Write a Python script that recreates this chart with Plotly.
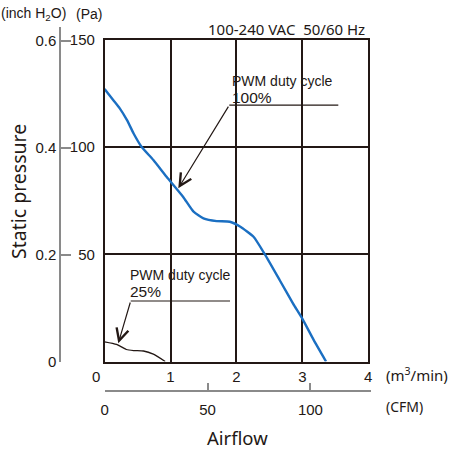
import plotly.graph_objects as go

# ---- data ----
flow_100 = [0.0, 0.13, 0.23, 0.34, 0.44, 0.56, 0.74, 0.94, 1.19, 1.35, 1.50, 1.70, 1.90, 2.06, 2.26, 2.43, 2.66, 2.86, 3.00, 3.17, 3.36]
pa_100 = [127.1, 122.0, 118.1, 112.6, 106.4, 100.2, 94.0, 86.2, 76.9, 69.9, 66.8, 65.5, 65.2, 62.9, 58.2, 50.1, 37.8, 27.0, 20.0, 10.2, 0.0]
flow_25 = [0.0, 0.18, 0.33, 0.44, 0.59, 0.74, 0.92]
pa_25 = [9.2, 8.0, 5.6, 5.1, 4.9, 3.4, 0.0]

x_ticks = [0, 1, 2, 3, 4]
x_ticktext = ["0\u2007\u2007", "1", "2", "3", "4"]
pa_ticks = [50, 100, 150]
inch_ticks = [0, 0.2, 0.4, 0.6]
inch_ticktext = ["0", "0.2", "0.4", "0.6"]
cfm_ticks = [0, 50, 100]

W, H = 451, 450
def px(x): return x / W
def py(y): return 1 - y / H

GRID = "#231815"
GRAY = "#8a8a8a"
TXT = "#231815"
TICKFONT = dict(family="Liberation Sans Narrow, Liberation Sans, Arial", size=15, color=TXT)
ANNFONT = "Noto Sans, Liberation Sans, Arial"
CALLFONT = "Liberation Sans, Arial"

fig = go.Figure()
fig.add_trace(go.Scatter(x=flow_100, y=pa_100, mode="lines", line=dict(color="#1b6fc2", width=2.4, shape="spline", smoothing=0.5),
                         xaxis="x", yaxis="y", hoverinfo="skip", showlegend=False))
fig.add_trace(go.Scatter(x=flow_25, y=pa_25, mode="lines", line=dict(color="#231815", width=1.3, shape="spline", smoothing=0.5),
                         xaxis="x", yaxis="y", hoverinfo="skip", showlegend=False))
# empty traces to create the secondary axes
fig.add_trace(go.Scatter(x=[], y=[], xaxis="x2", yaxis="y2", showlegend=False))
fig.add_trace(go.Scatter(x=[], y=[], xaxis="x3", yaxis="y3", showlegend=False))

fig.update_layout(
    width=W, height=H,
    margin=dict(l=0, r=0, t=0, b=0, autoexpand=False),
    paper_bgcolor="white", plot_bgcolor="white",
    xaxis=dict(domain=[px(104.6), px(368.2)], range=[0, 4], anchor="y", automargin=False,
               tickvals=x_ticks, ticktext=x_ticktext, tickfont=TICKFONT, ticks="", ticklabelstandoff=1,
               showgrid=True, gridcolor=GRID, gridwidth=1.5, zeroline=False,
               showline=True, mirror=True, linecolor=GRID, linewidth=1.5),
    yaxis=dict(domain=[py(361.5), py(40)], range=[0, 150], anchor="x", automargin=False,
               tickvals=pa_ticks, tickfont=TICKFONT, ticks="", ticklabelstandoff=5,
               showgrid=True, gridcolor=GRID, gridwidth=1.5, zeroline=False,
               showline=True, mirror=True, linecolor=GRID, linewidth=1.5),
    xaxis2=dict(domain=[px(61), px(62)], anchor="y2", visible=False, range=[0, 1], automargin=False),
    yaxis2=dict(domain=[py(361.5), py(27)], range=[0, 334.5 / 2.144 / 249.089], anchor="x2", automargin=False,
                tickvals=inch_ticks, ticktext=inch_ticktext, tickfont=TICKFONT,
                ticks="inside", ticklen=10, tickwidth=1.5, tickcolor=GRAY,
                showgrid=False, zeroline=False, showline=True, linecolor=GRAY, linewidth=1.5),
    xaxis3=dict(domain=[px(104.6), px(370.7)], range=[0, 266.1 / 2.058], anchor="y3", automargin=False,
                tickvals=cfm_ticks, tickfont=TICKFONT,
                ticks="inside", ticklen=7, tickwidth=1.5, tickcolor=GRAY, ticklabelstandoff=5,
                showgrid=False, zeroline=False, showline=True, linecolor=GRAY, linewidth=1.5),
    yaxis3=dict(domain=[py(390), py(380)], anchor="x3", visible=False, range=[0, 1], automargin=False),
)

ann = []
def ptext(text, x, y, size, xanchor="center", family=ANNFONT, **kw):
    ann.append(dict(text=text, x=px(x), y=py(y), xref="paper", yref="paper", showarrow=False,
                    xanchor=xanchor, yanchor="middle", font=dict(family=family, size=size, color=TXT), **kw))

ptext("(inch H<sub>2</sub>O)", 33, 14, 14, family=TICKFONT["family"])
ptext("(Pa)", 89, 14, 14, family=TICKFONT["family"])
ptext("100-240 VAC\u00a0\u00a050/60 Hz", 286.5, 29, 15)
ptext("(m<sup>3</sup>/min)", 384, 374, 15, xanchor="left")
ptext("(CFM)", 384, 406, 14, xanchor="left")
ptext("Airflow", 237, 437, 18.5)
ptext("Static pressure", 18, 192, 19.5, textangle=-90)

# callouts (data coords)
def dx(p): return (p - 104.6) / 65.9
def dy(p): return (361.5 - p) / 2.144

def dtext(text, x, y, size):
    ann.append(dict(text=text, x=dx(x), y=dy(y), xref="x", yref="y", showarrow=False, align="left",
                    xanchor="left", yanchor="middle", font=dict(family=CALLFONT, size=size, color=TXT)))

dtext("PWM duty cycle", 230, 81, 14)
dtext("100%", 230, 97.5, 15.5)
dtext("PWM duty cycle", 128, 275, 14)
dtext("25%", 128, 291.5, 15.5)
# arrows
ann.append(dict(text="", x=dx(178.3), y=dy(188.3), ax=dx(229.3), ay=dy(105), xref="x", yref="y", axref="x", ayref="y",
                showarrow=True, arrowhead=5, arrowsize=2.0, arrowwidth=1.2, arrowcolor=TXT))
ann.append(dict(text="", x=dx(118.3), y=dy(343.3), ax=dx(130.7), ay=dy(301), xref="x", yref="y", axref="x", ayref="y",
                showarrow=True, arrowhead=5, arrowsize=2.0, arrowwidth=1.2, arrowcolor=TXT))
fig.update_layout(annotations=ann)

fig.add_shape(type="line", x0=dx(229.3), x1=dx(338.3), y0=dy(105), y1=dy(105), xref="x", yref="y",
              line=dict(color=TXT, width=1.2))
fig.add_shape(type="line", x0=dx(130.7), x1=dx(230), y0=dy(301), y1=dy(301), xref="x", yref="y",
              line=dict(color=TXT, width=1.2))

fig.write_html("out.html")
